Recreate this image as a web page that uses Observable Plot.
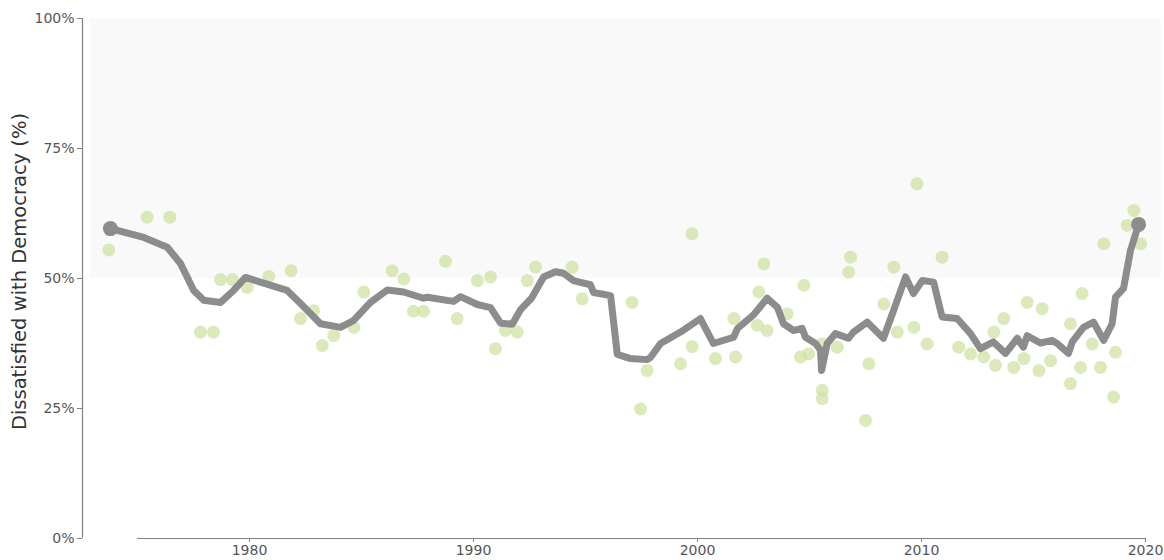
<!DOCTYPE html>
<html>
<head>
<meta charset="utf-8">
<script src="https://cdn.jsdelivr.net/npm/d3@7"></script>
<script src="https://cdn.jsdelivr.net/npm/@observablehq/plot@0.6"></script>
<style>
  html, body { margin: 0; padding: 0; background: #fff; }
  #chart svg { display: block; overflow: visible; }
</style>
</head>
<body>
<div id="chart"></div>
<script>
// ---- data ----
const yAxisLabel = "Dissatisfied with Democracy (%)";
const xTicks = [1980, 1990, 2000, 2010, 2020];
const yTicks = [0, 25, 50, 75, 100];
const xAxisStart = 1975;
const xAxisEnd = 2020;
const xDomain = [1972.545, 2020.223];

// individual survey readings (scatter)
const pointYears = [
  1973.72, 1975.43, 1976.44, 1977.81, 1978.39, 1978.71, 1979.24, 1979.90, 1980.86, 1981.86,
  1982.28, 1982.86, 1983.25, 1983.76, 1984.66, 1985.10, 1986.37, 1986.89, 1987.32, 1987.77,
  1988.75, 1989.27, 1990.17, 1990.76, 1990.98, 1991.43, 1991.95, 1992.40, 1992.77, 1994.41,
  1994.85, 1997.08, 1997.46, 1997.75, 1999.24, 1999.76, 1999.76, 2000.80, 2001.62, 2001.70,
  2002.67, 2003.11, 2002.74, 2002.96, 2004.00, 2004.75, 2004.60, 2004.96, 2005.57, 2005.57,
  2005.57, 2006.24, 2006.83, 2006.75, 2007.50, 2007.65, 2008.32, 2008.76, 2008.92, 2009.66,
  2009.80, 2010.25, 2010.92, 2011.66, 2012.19, 2012.78, 2013.23, 2013.30, 2013.67, 2014.12,
  2014.57, 2014.72, 2015.24, 2015.39, 2015.76, 2016.65, 2016.65, 2017.10, 2017.17, 2017.62,
  2017.99, 2018.14, 2018.58, 2018.66, 2019.18, 2019.48, 2019.78
];
const pointValues = [
  55.5, 61.8, 61.8, 39.7, 39.7, 49.8, 49.8, 48.3, 50.4, 51.5,
  42.3, 43.8, 37.1, 39.0, 40.6, 47.4, 51.5, 49.9, 43.7, 43.7,
  53.3, 42.3, 49.6, 50.3, 36.5, 40.0, 39.7, 49.6, 52.2, 52.2,
  46.1, 45.4, 24.9, 32.3, 33.6, 36.9, 58.6, 34.6, 42.3, 34.9,
  41.0, 40.0, 47.4, 52.8, 43.2, 48.7, 34.9, 35.5, 37.4, 28.5,
  26.9, 36.8, 54.1, 51.2, 22.7, 33.6, 45.1, 52.2, 39.7, 40.6,
  68.2, 37.4, 54.1, 36.8, 35.5, 34.9, 39.7, 33.3, 42.3, 32.9,
  34.6, 45.4, 32.3, 44.2, 34.2, 41.3, 29.8, 32.9, 47.1, 37.4,
  32.9, 56.7, 27.2, 35.8, 60.2, 63.1, 56.7
];

// smoothed trend
const lineYears = [
  1973.79, 1974.39, 1975.28, 1976.33, 1976.92, 1977.51, 1977.96, 1978.71, 1979.29, 1979.82,
  1980.49, 1981.68, 1982.28, 1983.17, 1984.06, 1984.64, 1985.40, 1986.15, 1986.88, 1987.77,
  1987.93, 1989.11, 1989.42, 1990.17, 1990.76, 1991.21, 1991.73, 1992.10, 1992.59, 1993.13,
  1993.66, 1994.02, 1994.46, 1995.22, 1995.36, 1996.12, 1996.42, 1997.01, 1997.75, 1997.90,
  1998.35, 1999.24, 2000.13, 2000.71, 2001.61, 2001.79, 2002.50, 2003.11, 2003.56, 2003.84,
  2004.29, 2004.67, 2004.82, 2005.27, 2005.49, 2005.54, 2005.79, 2006.16, 2006.74, 2006.96,
  2007.58, 2008.30, 2008.75, 2009.29, 2009.64, 2010.03, 2010.54, 2010.92, 2011.59, 2012.19,
  2012.63, 2013.21, 2013.75, 2014.27, 2014.55, 2014.72, 2015.31, 2015.83, 2016.06, 2016.56,
  2016.73, 2017.23, 2017.68, 2018.13, 2018.51, 2018.66, 2019.02, 2019.33, 2019.69
];
const lineValues = [
  59.6, 58.9, 57.9, 56.0, 52.9, 47.7, 45.8, 45.4, 47.7, 50.2,
  49.3, 47.7, 45.2, 41.3, 40.6, 41.9, 45.4, 47.8, 47.4, 46.2,
  46.4, 45.6, 46.5, 45.0, 44.4, 41.4, 41.2, 44.0, 46.2, 50.3,
  51.3, 51.0, 49.6, 48.8, 47.3, 46.7, 35.4, 34.6, 34.4, 34.8,
  37.5, 39.7, 42.3, 37.5, 38.7, 40.4, 43.0, 46.2, 44.5, 41.3,
  40.0, 40.4, 38.7, 37.5, 36.2, 32.3, 37.5, 39.4, 38.5, 39.7,
  41.6, 38.5, 43.8, 50.3, 47.1, 49.6, 49.3, 42.6, 42.3, 39.4,
  36.5, 37.8, 35.6, 38.5, 36.8, 39.0, 37.6, 38.1, 37.5, 35.6,
  37.8, 40.6, 41.6, 38.1, 41.3, 46.4, 48.1, 55.4, 60.4
];

// ---- build tables ----
const points = pointYears.map((year, i) => ({year, value: pointValues[i]}));
const trend = lineYears.map((year, i) => ({year, value: lineValues[i]}));
const trendEnds = [trend[0], trend[trend.length - 1]];

const axisColor = "#808080";
const tickTextColor = "#555";
const lineColor = "#8c8c8c";

const chart = Plot.plot({
  width: 1164,
  height: 560,
  marginLeft: 82,
  marginRight: 14,
  marginTop: 18,
  marginBottom: 22,
  style: {fontFamily: "DejaVu Sans", fontSize: "14px", color: tickTextColor, background: "#fff", overflow: "visible"},
  x: {domain: xDomain},
  y: {domain: [0, 100]},
  marks: [
    Plot.rect([{}], {x1: xDomain[0] + 0.35, x2: 2020.7, y1: 50, y2: 100, fill: "#f9f9f9"}),
    Plot.dot(points, {x: "year", y: "value", r: 6.5, fill: "#cde19e", fillOpacity: 0.7, stroke: "none"}),
    Plot.line(trend, {x: "year", y: "value", stroke: lineColor, strokeWidth: 7, strokeLinejoin: "round", strokeLinecap: "round"}),
    Plot.dot(trendEnds, {x: "year", y: "value", r: 7.5, fill: lineColor, stroke: "none"}),
    Plot.ruleX([xDomain[0]], {y1: 0, y2: 100, stroke: axisColor, strokeWidth: 1.2}),
    Plot.ruleY([0], {x1: xAxisStart, x2: xAxisEnd, stroke: axisColor, strokeWidth: 1.2}),
    Plot.axisY(yTicks, {tickSize: 5, tickPadding: 3, tickFormat: d => d + "%", stroke: axisColor, fill: tickTextColor, fontSize: 14, label: null}),
    Plot.axisX(xTicks, {tickSize: 4, tickPadding: 3, tickFormat: d => String(d), stroke: axisColor, fill: tickTextColor, fontSize: 14, label: null}),
    Plot.text([yAxisLabel], {frameAnchor: "left", rotate: -90, dx: -63, dy: -7, fontSize: 19.5, fill: "#333", textAnchor: "middle", lineAnchor: "middle"})
  ]
});
document.getElementById("chart").append(chart);
</script>
</body>
</html>
